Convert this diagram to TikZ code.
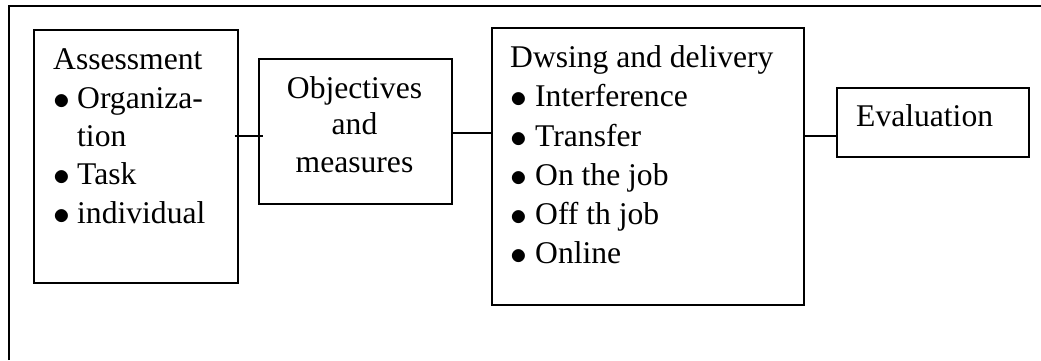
\documentclass[tikz,border=0pt]{standalone}
\usepackage{fontspec}
\setmainfont{Liberation Serif}
\newcommand{\bulA}{\makebox[24pt][l]{\raisebox{-1.5pt}{\scalebox{1.35}{$\bullet$}}}}
\newcommand{\bulB}{\makebox[25pt][l]{\raisebox{-1.5pt}{\scalebox{1.35}{$\bullet$}}}}
\begin{document}
\begin{tikzpicture}[x=1pt,y=-1pt,
  box/.style={draw, line width=1.6pt, inner sep=0pt, anchor=north west},
  txt/.style={inner sep=0pt, anchor=base west, font=\fontsize{31.6}{39}\selectfont},
  ctxt/.style={txt, anchor=base},
  link/.style={line width=1.5pt}]
\useasboundingbox (0,0) rectangle (1041,360);
\draw[line width=1.8pt] (9,360) -- (9,6) -- (1041,6);
% boxes
\node[box, minimum width=204pt, minimum height=253pt] (assess) at (33,29) {};
\node[box, minimum width=193pt, minimum height=145pt] (obj) at (258,58) {};
\node[box, minimum width=312pt, minimum height=277pt] (dw) at (491,27) {};
\node[box, minimum width=192pt, minimum height=69pt] (eval) at (836,87) {};
% assessment text
\node[txt] (a0) at (53,69) {Assessment};
\node[txt] (a1) at (53,108) {\bulA Organiza-};
\node[txt] (a2) at (77,146) {tion};
\node[txt] (a3) at (53,184) {\bulA Task};
\node[txt] (a4) at (53,223) {\bulA individual};
% objectives text
\node[ctxt] (o0) at (354.5,98) {Objectives};
\node[ctxt] (o1) at (354.5,134) {and};
\node[ctxt] (o2) at (354.5,172) {measures};
% dwsing text
\node[txt] (d0) at (510,67) {Dwsing and delivery};
\node[txt] (d1) at (510,106) {\bulB Interference};
\node[txt] (d2) at (510,146) {\bulB Transfer};
\node[txt] (d3) at (510,185) {\bulB On the job};
\node[txt] (d4) at (510,224) {\bulB Off th job};
\node[txt] (d5) at (510,263) {\bulB Online};
% evaluation text
\node[txt] (e0) at (856,126) {Evaluation};
% connectors
\coordinate (ya) at (0,136);
\coordinate (yb) at (0,133);
\draw[link] ([xshift=-4pt]assess.east |- ya) -- ([xshift=5pt]obj.west |- ya);
\draw[link] (obj.east |- yb) -- (dw.west |- yb);
\draw[link] (dw.east |- ya) -- (eval.west |- ya);
\end{tikzpicture}
\end{document}
